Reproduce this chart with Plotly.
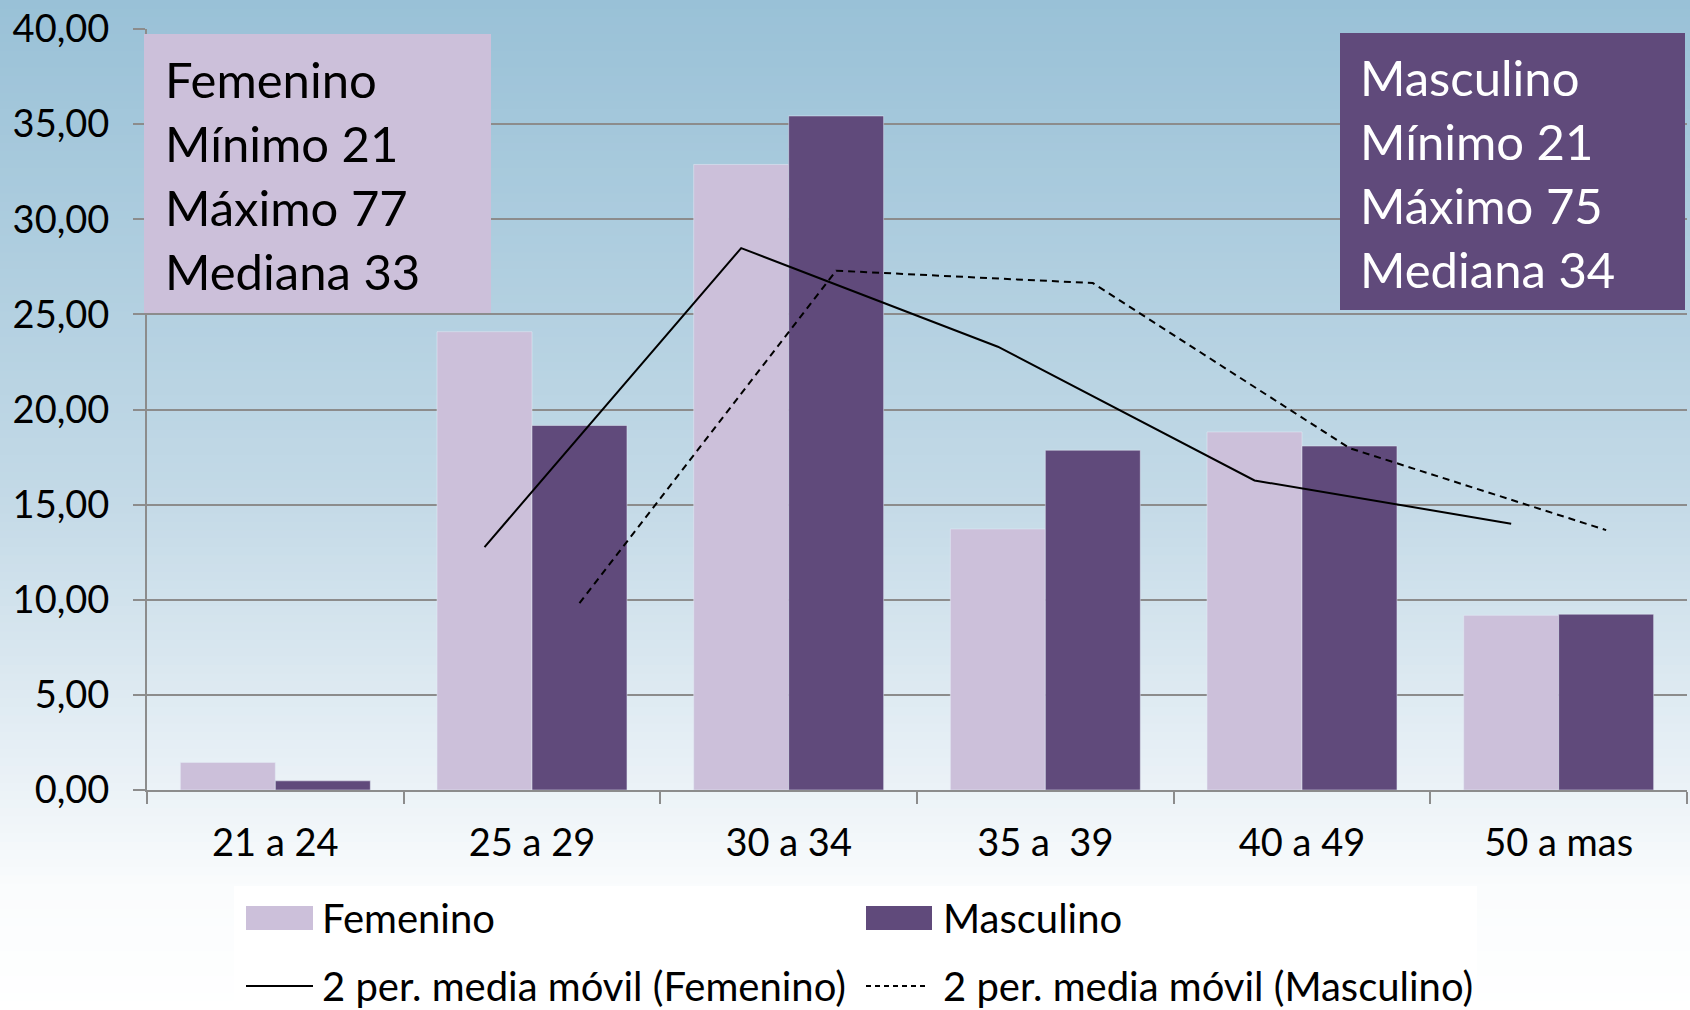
import pandas as pd
import plotly.graph_objects as go

W, H = 1690, 1010

categories = ["21 a 24", "25 a 29", "30 a 34", "35 a\u00a0 39", "40 a 49", "50 a mas"]
femenino = [1.45, 24.09, 32.88, 13.72, 18.82, 9.18]
masculino = [0.48, 19.16, 35.43, 17.86, 18.08, 9.24]

fem_box = ["Femenino", "Mínimo 21", "Máximo 77", "Mediana 33"]
masc_box = ["Masculino", "Mínimo 21", "Máximo 75", "Mediana 34"]

FEM = "#CCC0DA"
MASC = "#604A7B"
GRID = "#8C8C8C"
FONT = "Lato"
BARGAP = 0.26


def px(x):
    return x / W


def py(y):
    return 1 - y / H


def blend(c0, c1, t):
    return tuple(round(a + (b - a) * t) for a, b in zip(c0, c1))


# 2-period moving averages, like Excel's trendline
fem_ma = pd.Series(femenino).rolling(2).mean()
masc_ma = pd.Series(masculino).rolling(2).mean()
idx = pd.Series(range(len(categories)), dtype=float)
shift = (1 - BARGAP) / 4

fig = go.Figure()
fig.add_trace(go.Bar(x=categories, y=femenino, name="Femenino", marker_color=FEM))
fig.add_trace(go.Bar(x=categories, y=masculino, name="Masculino", marker_color=MASC))
fig.add_trace(go.Scatter(x=(idx - shift)[1:], y=fem_ma[1:], xaxis="x2", mode="lines",
                         line=dict(color="black", width=2), name="2 per. media móvil (Femenino)"))
fig.add_trace(go.Scatter(x=(idx + shift)[1:], y=masc_ma[1:], xaxis="x2", mode="lines",
                         line=dict(color="black", width=2, dash="7px,5px"),
                         name="2 per. media móvil (Masculino)"))

shapes = []
# vertical background gradient
stops = [(0.0, (153, 193, 215)), (0.5, (196, 218, 231)), (0.78, (235, 242, 247)),
         (0.88, (250, 252, 253)), (1.0, (255, 255, 255))]
n = 120
for k in range(n):
    t = (k + 0.5) / n
    for (t0, c0), (t1, c1) in zip(stops[:-1], stops[1:]):
        if t0 <= t <= t1:
            c = blend(c0, c1, (t - t0) / (t1 - t0))
            break
    shapes.append(dict(type="rect", xref="paper", yref="paper", layer="below",
                       x0=0, x1=1, y0=1 - (k + 1) / n - 0.001, y1=1 - k / n,
                       fillcolor="rgb(%d,%d,%d)" % c, line_width=0))

# white legend panel
shapes.append(dict(type="rect", xref="paper", yref="paper", layer="below",
                   x0=px(234), x1=px(1477), y0=0, y1=py(886), fillcolor="white", line_width=0))

# stats boxes
shapes.append(dict(type="rect", xref="paper", yref="paper", layer="above",
                   x0=px(144), x1=px(491), y0=py(313), y1=py(34), fillcolor=FEM, line_width=0))
shapes.append(dict(type="rect", xref="paper", yref="paper", layer="above",
                   x0=px(1340), x1=px(1685), y0=py(310), y1=py(33), fillcolor=MASC, line_width=0))

# legend swatches
shapes.append(dict(type="rect", xref="paper", yref="paper", x0=px(246), x1=px(313),
                   y0=py(930), y1=py(906), fillcolor=FEM, line_width=0))
shapes.append(dict(type="rect", xref="paper", yref="paper", x0=px(866), x1=px(932),
                   y0=py(930), y1=py(906), fillcolor=MASC, line_width=0))
shapes.append(dict(type="line", xref="paper", yref="paper", x0=px(246), x1=px(313),
                   y0=py(986), y1=py(986), line=dict(color="black", width=2)))
shapes.append(dict(type="line", xref="paper", yref="paper", x0=px(866), x1=px(928),
                   y0=py(986), y1=py(986), line=dict(color="black", width=2, dash="5px,4px")))

annotations = []
for i, (ft, mt) in enumerate(zip(fem_box, masc_box)):
    annotations.append(dict(text=ft, x=px(163), y=py(79 + 64 * i), xref="paper", yref="paper",
                            xanchor="left", yanchor="middle", showarrow=False,
                            font=dict(family=FONT, size=49, color="black")))
    annotations.append(dict(text=mt, x=px(1358), y=py(77 + 64 * i), xref="paper", yref="paper",
                            xanchor="left", yanchor="middle", showarrow=False,
                            font=dict(family=FONT, size=49, color="white")))

legend_items = [("Femenino", 320, 918), ("Masculino", 941, 918),
                ("2 per. media móvil (Femenino)", 320, 986),
                ("2 per. media móvil (Masculino)", 941, 986)]
for label, lx, ly in legend_items:
    annotations.append(dict(text=label, x=px(lx), y=py(ly), xref="paper", yref="paper",
                            xanchor="left", yanchor="middle", showarrow=False,
                            font=dict(family=FONT, size=40, color="black")))

fig.update_layout(
    width=W, height=H,
    margin=dict(l=0, r=0, t=0, b=0),
    paper_bgcolor="white",
    plot_bgcolor="rgba(0,0,0,0)",
    barmode="group", bargap=BARGAP, bargroupgap=0,
    showlegend=False,
    separators=", ",
    font=dict(family=FONT, size=38, color="black"),
    shapes=shapes,
    annotations=annotations,
    xaxis=dict(domain=[px(147), px(1687)], tickson="boundaries", ticks="outside",
               ticklen=12, tickwidth=2, tickcolor=GRID, showline=True, linecolor=GRID,
               linewidth=2, showgrid=False, ticklabelstandoff=18, automargin=False,
               tickfont=dict(size=38)),
    xaxis2=dict(domain=[px(147), px(1687)], overlaying="x", range=[-0.5, 5.5],
                visible=False),
    yaxis=dict(domain=[py(790), py(29)], range=[0, 40], dtick=5, tickformat=".2f",
               ticks="outside", ticklen=12, tickwidth=2, tickcolor=GRID,
               showline=True, linecolor=GRID, linewidth=2,
               showgrid=True, gridcolor=GRID, gridwidth=2, zeroline=False,
               ticklabelstandoff=16, automargin=False, tickfont=dict(size=38)),
)

fig.write_html("out.html", config={"displayModeBar": False},
               post_script="document.body.style.margin='0';document.body.style.overflow='hidden';")
